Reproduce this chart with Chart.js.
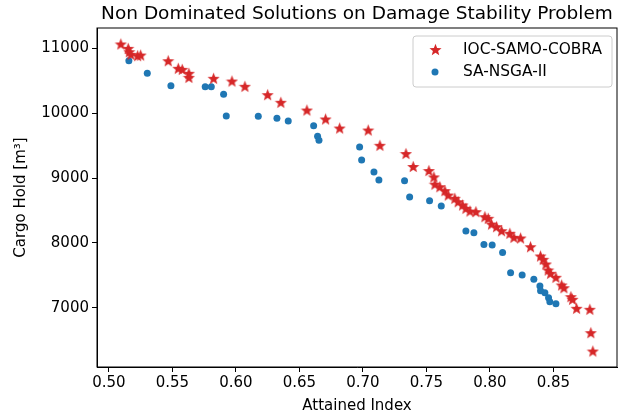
<!DOCTYPE html>
<html>
<head>
<meta charset="utf-8">
<script src="https://cdn.jsdelivr.net/npm/chart.js@4"></script>
<style>
  body { margin: 0; background: #fff; }
  #wrap { width: 628px; height: 417px; }
</style>
</head>
<body>
<div id="wrap"><canvas id="myChart" width="628" height="417"></canvas></div>
<script>
// IOC-SAMO-COBRA solutions (attained index, cargo hold)
const cobraX = [0.5094, 0.5152, 0.5160, 0.5173, 0.5226, 0.5250, 0.5467, 0.5546, 0.5577, 0.5630, 0.5630, 0.5824, 0.5969, 0.6071, 0.6250, 0.6354, 0.6559, 0.6706, 0.6817, 0.7042, 0.7134, 0.7339, 0.7396, 0.7520, 0.7559, 0.7567, 0.7606, 0.7646, 0.7672, 0.7724, 0.7750, 0.7785, 0.7811, 0.7843, 0.7890, 0.7961, 0.7987, 0.8013, 0.8053, 0.8092, 0.8157, 0.8189, 0.8242, 0.8320, 0.8399, 0.8420, 0.8441, 0.8459, 0.8478, 0.8520, 0.8565, 0.8583, 0.8638, 0.8651, 0.8683, 0.8787, 0.8795, 0.8811];
const cobraY = [11062, 10995, 10943, 10903, 10882, 10892, 10805, 10688, 10672, 10611, 10549, 10534, 10492, 10411, 10282, 10165, 10046, 9908, 9769, 9738, 9503, 9377, 9177, 9115, 9017, 8905, 8866, 8805, 8738, 8688, 8635, 8585, 8534, 8492, 8482, 8405, 8380, 8292, 8251, 8189, 8149, 8088, 8077, 7943, 7800, 7749, 7677, 7585, 7534, 7472, 7354, 7312, 7174, 7134, 6995, 6980, 6620, 6338];
// SA-NSGA-II solutions
const nsgaX = [0.5157, 0.5302, 0.5488, 0.5758, 0.5806, 0.5903, 0.5924, 0.6176, 0.6323, 0.6412, 0.6612, 0.6643, 0.6654, 0.6974, 0.6990, 0.7087, 0.7126, 0.7328, 0.7368, 0.7525, 0.7617, 0.7811, 0.7874, 0.7953, 0.8018, 0.8100, 0.8163, 0.8254, 0.8346, 0.8394, 0.8399, 0.8433, 0.8462, 0.8472, 0.8520];
const nsgaY = [10805, 10611, 10420, 10405, 10405, 10288, 9954, 9949, 9918, 9877, 9805, 9642, 9580, 9477, 9277, 9092, 8969, 8958, 8708, 8651, 8569, 8185, 8158, 7977, 7969, 7854, 7543, 7508, 7442, 7338, 7266, 7235, 7158, 7097, 7066];
const xTicks = [0.50, 0.55, 0.60, 0.65, 0.70, 0.75, 0.80, 0.85];
const yTicks = [7000, 8000, 9000, 10000, 11000];

const RED = '#d62728';
const BLUE = '#1f77b4';
const FONT = 'DejaVu Sans';

// filled star like matplotlib's '*' marker
const makeStar = (size, color) => {
    const c = document.createElement('canvas');
    c.width = size; c.height = size;
    const g = c.getContext('2d');
    const r = size / 2, ri = r * 0.42;
    g.beginPath();
    for (let i = 0; i < 10; i++) {
        const rad = i % 2 === 0 ? r * 0.98 : ri;
        const a = -Math.PI / 2 + i * Math.PI / 5;
        g.lineTo(r + rad * Math.cos(a), r + 0.6 + rad * Math.sin(a));
    }
    g.closePath();
    g.fillStyle = color;
    g.fill();
    return c;
};
const star = makeStar(13, RED);

const toPoints = (xs, ys) => xs.map((x, i) => ({ x: x, y: ys[i] }));

// title, frame and inside legend drawn by hand
const decor = {
    id: 'decor',
    afterDraw(chart) {
        const { ctx, chartArea: a } = chart;
        ctx.save();
        ctx.strokeStyle = '#000';
        ctx.lineWidth = 1;
        ctx.strokeRect(a.left, a.top, a.right - a.left, a.bottom - a.top);
        ctx.fillStyle = '#000';
        ctx.font = '18.5px ' + FONT;
        ctx.textAlign = 'center';
        ctx.textBaseline = 'middle';
        ctx.fillText('Non Dominated Solutions on Damage Stability Problem', (a.left + a.right) / 2, 14);
        // legend
        const lx = 413, ly = 36, lw = 199, lh = 51;
        ctx.fillStyle = 'rgba(255,255,255,0.8)';
        ctx.strokeStyle = '#cccccc';
        ctx.beginPath();
        ctx.roundRect(lx, ly, lw, lh, 3);
        ctx.fill();
        ctx.stroke();
        ctx.drawImage(star, lx + 16, ly + 7);
        ctx.fillStyle = BLUE;
        ctx.beginPath();
        ctx.arc(lx + 22, ly + 36, 3.5, 0, Math.PI * 2);
        ctx.fill();
        ctx.fillStyle = '#000';
        ctx.font = '15.4px ' + FONT;
        ctx.textAlign = 'left';
        ctx.fillText('IOC-SAMO-COBRA', lx + 50, ly + 14);
        ctx.fillText('SA-NSGA-II', lx + 50, ly + 36);
        ctx.restore();
    }
};

const tickFont = { family: FONT, size: 15 };

new Chart(document.getElementById('myChart'), {
    type: 'scatter',
    data: {
        datasets: [
            {
                label: 'SA-NSGA-II',
                data: toPoints(nsgaX, nsgaY),
                backgroundColor: BLUE,
                borderWidth: 0,
                pointRadius: 3.5,
                order: 2
            },
            {
                label: 'IOC-SAMO-COBRA',
                data: toPoints(cobraX, cobraY),
                pointStyle: star,
                order: 1
            }
        ]
    },
    options: {
        responsive: false,
        animation: false,
        layout: { padding: { top: 28, right: 11, left: 0, bottom: 0 } },
        plugins: { legend: { display: false }, tooltip: { enabled: false } },
        scales: {
            x: {
                type: 'linear',
                min: 0.4906,
                max: 0.9001,
                afterBuildTicks: (ax) => { ax.ticks = xTicks.map(v => ({ value: v })); },
                afterFit: (ax) => { ax.height = 50; },
                grid: { drawOnChartArea: false, drawTicks: true, tickLength: 5, color: '#000' },
                border: { color: '#000' },
                ticks: { color: '#000', font: tickFont, padding: 2, maxRotation: 0,
                         callback: (v) => v.toFixed(2) },
                title: { display: true, text: 'Attained Index', color: '#000', font: tickFont, padding: { top: 0, bottom: 2 } }
            },
            y: {
                min: 6092,
                max: 11308,
                afterBuildTicks: (ax) => { ax.ticks = yTicks.map(v => ({ value: v })); },
                afterFit: (ax) => { ax.width = 97; },
                grid: { drawOnChartArea: false, drawTicks: true, tickLength: 5, color: '#000' },
                border: { color: '#000' },
                ticks: { color: '#000', font: tickFont, padding: 3, callback: (v) => String(v) },
                title: { display: true, text: 'Cargo Hold [m³]', color: '#000', font: tickFont, padding: { top: 12, bottom: 4 } }
            }
        }
    },
    plugins: [decor]
});
</script>
</body>
</html>
